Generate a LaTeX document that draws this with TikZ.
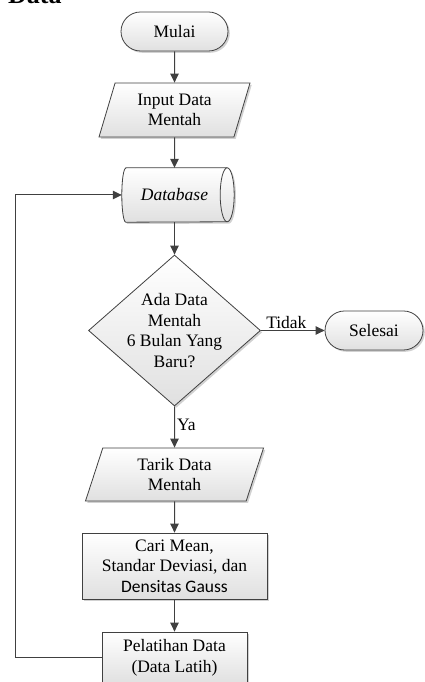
\documentclass[tikz,border=0pt]{standalone}
\usepackage{fontspec}
\setmainfont{Liberation Serif}
\newfontfamily\calfont{Carlito}
\usetikzlibrary{shapes.geometric,shadows,arrows.meta,calc}
\definecolor{linec}{HTML}{404040}
\definecolor{fillb}{HTML}{E0E0E0}
\newcommand\fs{\fontsize{17.5pt}{20.5pt}\selectfont}
\tikzset{
  base/.style={draw=linec, line width=0.8pt, top color=white, bottom color=fillb,
    drop shadow={shadow xshift=1.8pt, shadow yshift=-1.8pt, opacity=0.3, fill=black!60},
    align=center, inner sep=0pt, font=\fs, text=black},
  term/.style={base, rectangle, rounded corners=19.5pt, minimum height=39pt},
  io/.style={base, trapezium, trapezium stretches body},
  proc/.style={base, rectangle},
  dec/.style={base, diamond, aspect=1.139, inner sep=-6pt, minimum width=172pt, minimum height=151pt},
  conn/.style={draw=linec, line width=1pt, -{Triangle[length=9pt,width=8.5pt]}},
  lbl/.style={font=\fs, text=black}
}
\begin{document}
\begin{tikzpicture}[x=1pt,y=1pt]
\useasboundingbox (0,0) rectangle (424,682);
\node[font=\fontsize{26pt}{30pt}\selectfont\bfseries, anchor=base west, inner sep=0pt] (ttl) at (8,678.5) {Data};

\node[term, minimum width=107pt] (start) at (174.5,650.5) {Mulai};
\node[io, trapezium left angle=63.4, trapezium right angle=116.6, minimum width=151pt, minimum height=54pt] (inp) at (174.5,572) {Input Data\\Mentah};

% database (cylinder drawn around a named node)
\node[minimum width=105pt, minimum height=54pt, inner sep=0pt, font=\fs] (db) at (174.5,487) {};
\path[base] ([xshift=4pt]db.north west) -- (db.north east)
  arc[start angle=90, end angle=-90, x radius=7pt, y radius=27pt]
  -- ([xshift=4pt]db.south west)
  arc[start angle=270, end angle=90, x radius=4pt, y radius=27pt] -- cycle;
\draw[draw=linec, line width=0.8pt] (db.north east) arc[start angle=90, end angle=270, x radius=7pt, y radius=27pt];
\node[font=\fs\itshape, inner sep=0pt] (dbt) at (db.center) {Database};

\node[dec] (dec) at (174.5,351.5) {Ada Data\\Mentah\\6 Bulan Yang\\Baru?};
\node[term, minimum width=98pt] (sel) at (374,351.5) {Selesai};

\node[io, trapezium left angle=62.2, trapezium right angle=117.8, minimum width=178pt, minimum height=53pt] (tar) at (174.5,207.5) {Tarik Data\\Mentah};
\node[proc, minimum width=185pt, minimum height=66pt] (cari) at (174.5,116) {Cari Mean,\\Standar Deviasi, dan\\{\calfont Densitas Gauss}};
\node[proc, minimum width=145pt, minimum height=52pt] (pel) at (174.5,24) {Pelatihan Data\\(Data Latih)};

\draw[conn] (start.south) -- (inp.north);
\draw[conn] (inp.south) -- (db.north);
\draw[conn] (db.south) -- (dec.north);
\draw[conn] (dec.east) -- node[lbl, above, pos=0.4, inner sep=1.5pt] {Tidak} (sel.west);
\draw[conn] (dec.south) -- node[lbl, right, pos=0.45, inner sep=2pt] {Ya} (tar.north);
\draw[conn] (tar.south) -- (cari.north);
\draw[conn] (cari.south) -- (pel.north);
\draw[conn] (pel.west) -- ++(-86,0) |- (db.west);
\end{tikzpicture}
\end{document}
